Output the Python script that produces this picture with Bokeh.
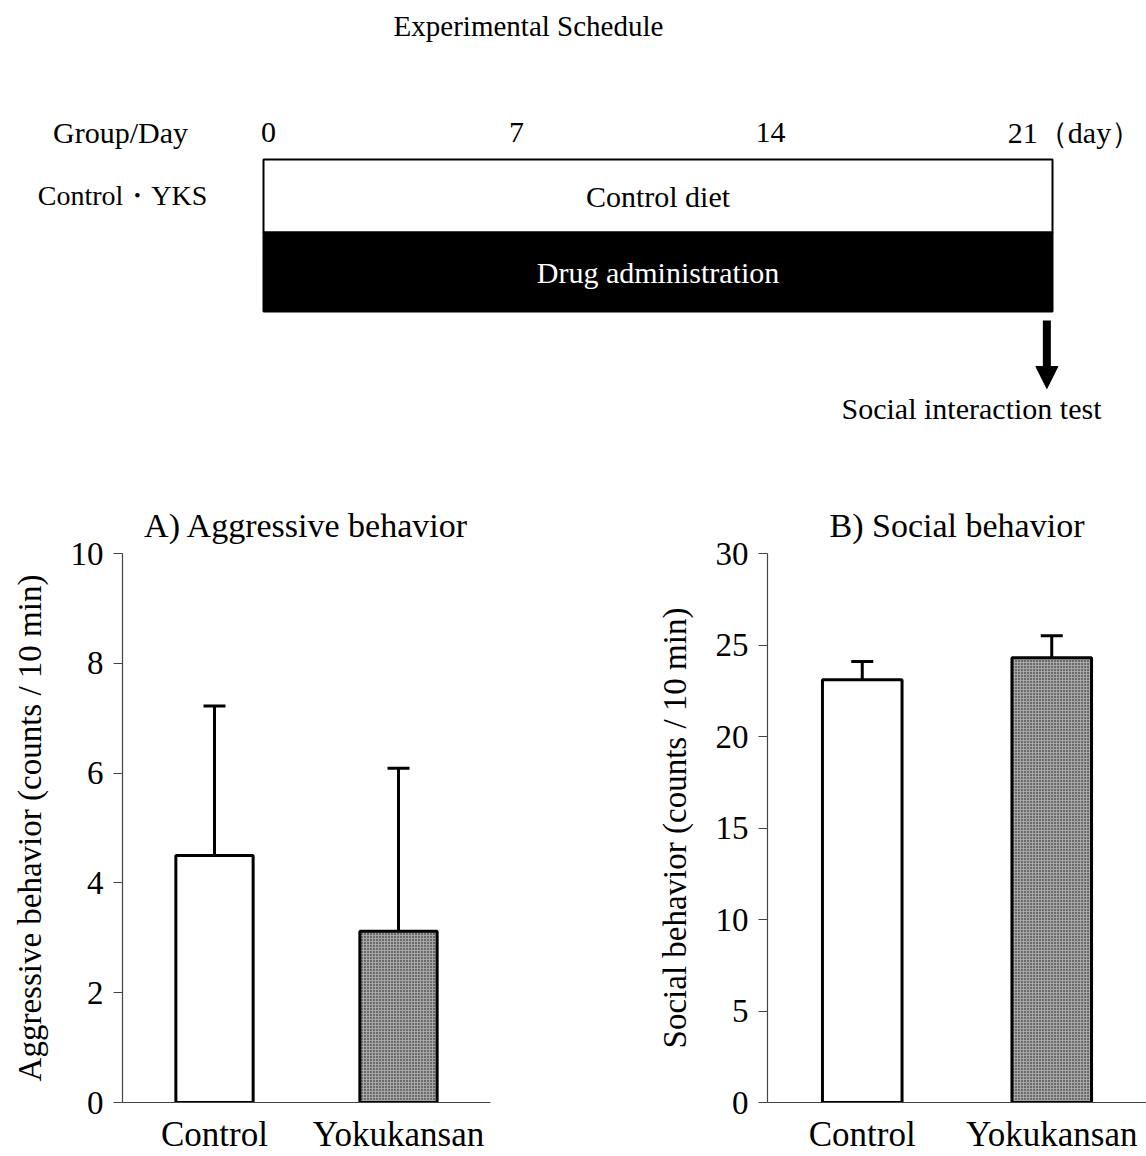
from bokeh.plotting import figure
from bokeh.layouts import column, row
from bokeh.models import (Range1d, FactorRange, Whisker, TeeHead, ColumnDataSource,
                          FixedTicker, Arrow, NormalHead)
from bokeh.embed import file_html
from bokeh.resources import INLINE
from bokeh.core.properties import value

FONT = "Liberation Serif"

# ---------------- schedule data ----------------
schedule_title = "Experimental Schedule"
days = [0, 7, 14, 21]
day_labels = ["0", "7", "14", "21（day）"]
day_label_offsets = [5, -10, -19, 22]
group_header = "Group/Day"
group_label = "Control・YKS"
phases = ["Control diet", "Drug administration"]
phase_start = [0, 0]
phase_end = [21, 21]
test_day = 21
test_label = "Social interaction test"

# ---------------- bar data ----------------
groups = ["Control", "Yokukansan"]
aggr_mean = [4.5, 3.12]
aggr_sem = [2.72, 2.97]
social_mean = [23.1, 24.3]
social_sem = [1.0, 1.2]
aggr_ticks = [0, 2, 4, 6, 8, 10]
social_ticks = [0, 5, 10, 15, 20, 25, 30]

# ---------------- schedule figure ----------------
W = 1146
TOP_H = 440
px_per_day = 789 / 21.0
x0 = -263 / px_per_day
top = figure(width=W, height=TOP_H, x_range=Range1d(x0, x0 + W / px_per_day),
             y_range=Range1d(TOP_H, 0), output_backend="svg", toolbar_location=None,
             x_axis_location=None, y_axis_location=None, min_border=0)
top.grid.visible = False
top.outline_line_color = None

row_top = [159, 232]
row_bot = [232, 311]
top.quad(left=phase_start, right=phase_end, top=row_top, bottom=row_bot,
         fill_color=["white", "black"], line_color="black", line_width=2)

def px(x):
    return x0 + x / px_per_day

top.text(x=[px(528)], y=[25], text=[schedule_title],
         text_font=value(FONT), text_font_size="29px", text_align="center",
         text_baseline="middle", text_color="black")
top.text(x=[px(120)], y=[132], text=[group_header],
         text_font=value(FONT), text_font_size="30px", text_align="center",
         text_baseline="middle", text_color="black")
top.text(x=[px(122)], y=[195], text=[group_label],
         text_font=value(FONT), text_font_size="28px", text_align="center",
         text_baseline="middle", text_color="black")
top.text(x=days, y=[132] * 4, text=day_labels, x_offset=day_label_offsets,
         text_font=value(FONT), text_font_size="30px", text_align="center",
         text_baseline="middle", text_color="black")
mid = [(s + e) / 2 for s, e in zip(phase_start, phase_end)]
top.text(x=mid, y=[(a + b) / 2 for a, b in zip(row_top, row_bot)], text=phases,
         text_font=value(FONT), text_font_size="30px", text_align="center",
         text_baseline="middle", text_color=["black", "white"])
top.add_layout(Arrow(end=NormalHead(size=22, fill_color="black", line_color="black"),
                     x_start=test_day - 0.15, y_start=320, x_end=test_day - 0.15, y_end=388,
                     line_width=8, line_color="black"))
top.text(x=[test_day], y=[408], text=[test_label], x_offset=[-81],
         text_font=value(FONT), text_font_size="30px", text_align="center",
         text_baseline="middle", text_color="black")


# ---------------- bar figures ----------------
def bar_fig(title, ylabel, means, sems, ymax, ticks, width, left, right):
    src = ColumnDataSource(dict(
        g=groups, m=means, up=[m + s for m, s in zip(means, sems)],
        fill=["white", "#a6a6a6"], hatch=[" ", "dot"]))
    p = figure(width=width, height=716, x_range=FactorRange(*groups),
               y_range=Range1d(0, ymax), title=title, output_backend="svg",
               toolbar_location=None, min_border_left=left, min_border_right=right,
               min_border_top=113, min_border_bottom=48)
    p.grid.visible = False
    p.outline_line_color = None
    p.vbar(x="g", top="m", width=0.42, source=src, fill_color="fill",
           line_color="black", line_width=3, hatch_pattern="hatch",
           hatch_color="#111111", hatch_scale=3, hatch_weight=2.5)
    p.add_layout(Whisker(base="g", lower="m", upper="up", source=src,
                         line_width=3, line_color="black",
                         upper_head=TeeHead(size=22, line_width=3, line_color="black"),
                         lower_head=TeeHead(size=1, line_alpha=0)))
    p.title.text_font = FONT
    p.title.text_font_size = "34px"
    p.title.text_font_style = "normal"
    p.title.align = "center"
    p.title.text_color = "black"
    p.title.standoff = 20
    for ax in (p.xaxis, p.yaxis):
        ax.major_label_text_font = FONT
        ax.major_label_text_color = "black"
        ax.axis_line_color = "#444"
        ax.axis_line_width = 1.2
    p.xaxis.major_tick_line_color = None
    p.xaxis.major_label_text_font_size = "35px"
    p.xaxis.major_label_standoff = 6
    p.yaxis.ticker = FixedTicker(ticks=ticks)
    p.yaxis.major_label_text_font_size = "33px"
    p.yaxis.major_tick_out = 9
    p.yaxis.major_tick_in = 0
    p.yaxis.major_tick_line_color = "#444"
    p.yaxis.minor_tick_line_color = None
    p.yaxis.major_label_standoff = 10
    p.yaxis.axis_label = ylabel
    p.yaxis.axis_label_text_font = FONT
    p.yaxis.axis_label_text_font_size = "33px"
    p.yaxis.axis_label_text_font_style = "normal"
    p.yaxis.axis_label_text_color = "black"
    p.yaxis.axis_label_standoff = 20
    return p


pa = bar_fig("A) Aggressive behavior", "Aggressive behavior (counts / 10 min)",
             aggr_mean, aggr_sem, 10, aggr_ticks, 573, 122, 83)
pb = bar_fig("B) Social behavior", "Social behavior (counts / 10 min)",
             social_mean, social_sem, 30, social_ticks, 573, 194, 0)

layout = column(top, row(pa, pb))
open("out.html", "w").write(file_html(layout, INLINE))
